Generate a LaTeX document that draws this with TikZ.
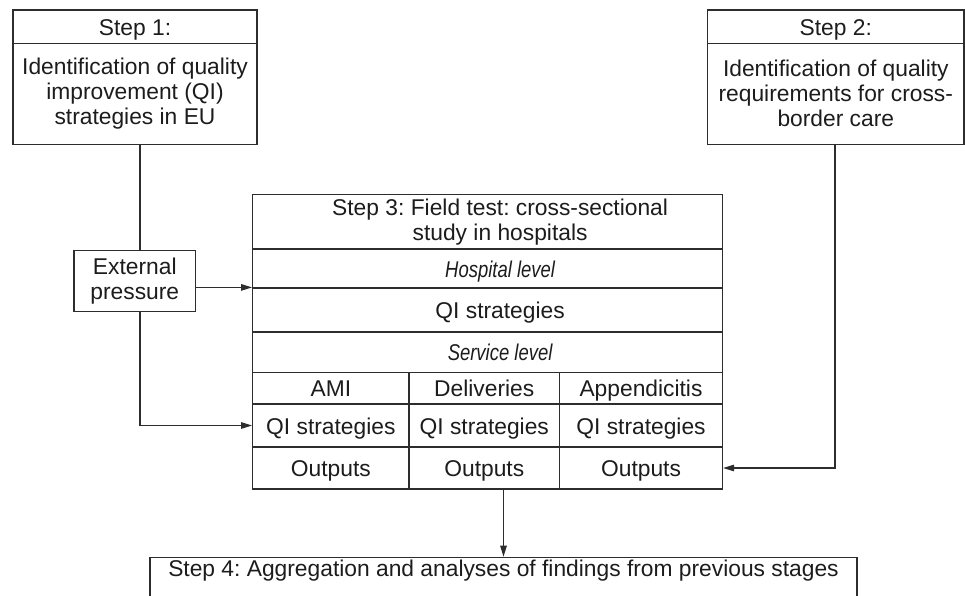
\documentclass[tikz,border=0pt]{standalone}
\usepackage{fontspec}
\setmainfont{Liberation Sans}
\usepackage{graphicx}
\usetikzlibrary{arrows.meta}
\definecolor{lncol}{RGB}{45,45,45}
\definecolor{txcol}{RGB}{28,28,28}
\newcommand{\condit}[1]{\scalebox{0.81}[1]{\itshape #1}}
\frenchspacing
\begin{document}
\frenchspacing
\begin{tikzpicture}[x=1pt,y=-1pt,
  box/.style={draw=lncol, line width=1.2pt, rectangle, inner sep=0pt, text=txcol,
    font=\fontsize{22.8}{25}\selectfont\frenchspacing, align=center},
  cell/.style={box, text height=17pt, text depth=0pt},
  conn/.style={draw=lncol, line width=1.2pt},
  arr/.style={conn, -{Triangle[length=11pt,width=6.5pt]}}]
\useasboundingbox (0,0) rectangle (965,596);

% Step 1
\node[cell, minimum width=244pt, minimum height=33.3pt] (s1h) at (135,26.7) {Step 1:};
\node[box, minimum width=244pt, minimum height=101pt] (s1b) at (135,93.8)
  {Identification of quality\\improvement (QI)\\strategies in EU};

% Step 2
\node[cell, minimum width=256.3pt, minimum height=33.3pt] (s2h) at (835.8,26.7) {Step 2:};
\node[box, minimum width=256.3pt, minimum height=101pt] (s2b) at (835.8,93.8)
  {Identification of quality\\requirements for cross-\\border care};

% External pressure
\node[box, minimum width=121.7pt, minimum height=61pt] (ext) at (134.8,281.2)
  {External\\pressure};

% Step 3 table: full-width rows
\node[box, minimum width=469.8pt, minimum height=54.3pt] (h3) at (487.6,221.85)
  {\hspace*{25pt}Step 3: Field test: cross-sectional\\\hspace*{25pt}study in hospitals};
\node[cell, minimum width=469.8pt, minimum height=39pt] (hosp) at (487.6,268.5)
  {\hspace*{25pt}\condit{Hospital level}};
\node[cell, minimum width=469.8pt, minimum height=44pt] (qih) at (487.6,310)
  {\hspace*{25pt}QI strategies};
\node[cell, minimum width=469.8pt, minimum height=40.5pt] (serv) at (487.6,352.25)
  {\hspace*{25pt}\condit{Service level}};

% Step 3 table: three columns
\node[cell, minimum width=156.3pt, minimum height=31.5pt] (a1) at (330.85,388.25) {AMI};
\node[cell, minimum width=150.5pt, minimum height=31.5pt] (a2) at (484.25,388.25) {Deliveries};
\node[cell, minimum width=163pt, minimum height=31.5pt] (a3) at (641,388.25) {Appendicitis};
\node[cell, minimum width=156.3pt, minimum height=43pt] (q1) at (330.85,425.5) {QI strategies};
\node[cell, minimum width=150.5pt, minimum height=43pt] (q2) at (484.25,425.5) {QI strategies};
\node[cell, minimum width=163pt, minimum height=43pt] (q3) at (641,425.5) {QI strategies};
\node[cell, minimum width=156.3pt, minimum height=42pt] (o1) at (330.85,468) {Outputs};
\node[cell, minimum width=150.5pt, minimum height=42pt] (o2) at (484.25,468) {Outputs};
\node[cell, minimum width=163pt, minimum height=42pt] (o3) at (641,468) {Outputs};

% Step 4
\node[box, anchor=north, minimum width=707pt, text height=19.3pt, text depth=30pt] (s4)
  at (503.5,556.7) {Step 4: Aggregation and analyses of findings from previous stages};

% connectors
\coordinate (ln1) at (140,0);
\coordinate (ln2) at (835,0);
\draw[conn] (s1b.south -| ln1) -- (ext.north -| ln1);
\draw[arr] (ext.east |- qih.north west) -- (qih.north west);
\draw[arr] (ext.south -| ln1) |- (q1.west);
\draw[arr] (s2b.south -| ln2) |- (o3.east);
\draw[arr] (o2.south -| s4.north) -- (s4.north);
\end{tikzpicture}
\end{document}
